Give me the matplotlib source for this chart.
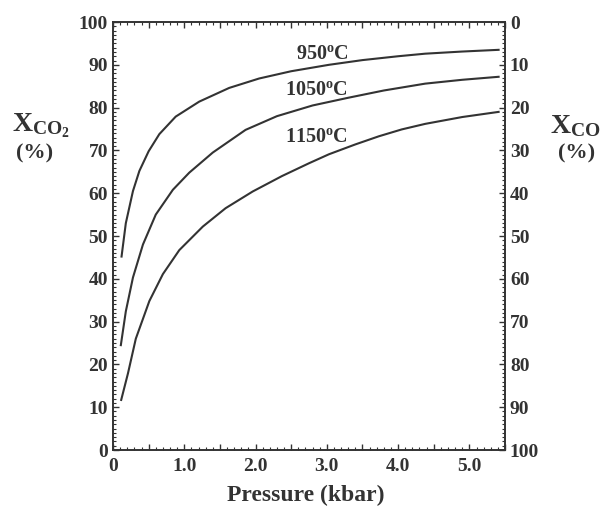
import matplotlib
matplotlib.use("Agg")
import matplotlib.pyplot as plt
from matplotlib.ticker import MultipleLocator, FuncFormatter

plt.rcParams["font.family"] = "Liberation Serif"
plt.rcParams["font.weight"] = "bold"
plt.rcParams["mathtext.fontset"] = "custom"
plt.rcParams["mathtext.rm"] = "Liberation Serif:bold"
plt.rcParams["mathtext.bf"] = "Liberation Serif:bold"
plt.rcParams["mathtext.it"] = "Liberation Serif:bold"

# pressure (kbar) vs X_CO2 (%)
p_950 = [0.12, 0.18, 0.28, 0.37, 0.50, 0.65, 0.88, 1.21, 1.63, 2.05, 2.50, 3.03, 3.50, 4.00, 4.38, 4.90, 5.41]
x_950 = [45.2, 53.0, 60.5, 65.2, 69.8, 73.8, 77.9, 81.4, 84.6, 86.8, 88.5, 90.0, 91.1, 92.0, 92.6, 93.1, 93.5]

p_1050 = [0.11, 0.18, 0.28, 0.42, 0.60, 0.84, 1.07, 1.40, 1.86, 2.30, 2.80, 3.30, 3.80, 4.38, 4.90, 5.41]
x_1050 = [24.5, 32.4, 40.3, 48.0, 55.0, 60.8, 64.8, 69.5, 74.8, 78.0, 80.5, 82.3, 84.0, 85.6, 86.5, 87.2]

p_1150 = [0.115, 0.21, 0.32, 0.51, 0.70, 0.93, 1.26, 1.58, 1.96, 2.37, 2.75, 3.03, 3.40, 3.73, 4.05, 4.38, 4.90, 5.41]
x_1150 = [11.7, 17.9, 26.0, 34.8, 41.1, 46.7, 52.2, 56.5, 60.4, 64.0, 67.0, 69.1, 71.4, 73.3, 74.9, 76.2, 77.8, 79.0]

labels = ["950$^{\\mathrm{o}}$C", "1050$^{\\mathrm{o}}$C", "1150$^{\\mathrm{o}}$C"]
label_pos = [(2.94, 91.4), (2.85, 82.9), (2.85, 72.0)]

fig = plt.figure(figsize=(6.02, 5.13), dpi=100)
ax = fig.add_axes([0.1877, 0.1228, 0.6512, 0.8343])
col = "#333333"
for p, x in [(p_950, x_950), (p_1050, x_1050), (p_1150, x_1150)]:
    ax.plot(p, x, color=col, linewidth=1.5)
for t, (px, py) in zip(labels, label_pos):
    ax.text(px, py, t, ha="center", va="baseline", fontsize=14.5, color=col)

ax.set_xlim(0, 5.5)
ax.set_ylim(0, 100)
ax.xaxis.set_major_locator(MultipleLocator(0.5))
ax.xaxis.set_minor_locator(MultipleLocator(0.1))
ax.xaxis.set_major_formatter(FuncFormatter(
    lambda v, _: "0" if abs(v) < 1e-9 else (f"{v:.1f}" if abs(v - round(v)) < 1e-9 else "")))
ax.yaxis.set_major_locator(MultipleLocator(10))
ax.yaxis.set_minor_locator(MultipleLocator(1))
ax.tick_params(which="both", direction="in", top=True, labelsize=14, colors=col)
ax.tick_params(which="major", length=4, width=1.0)
ax.tick_params(which="minor", length=2.5, width=0.8)
ax.tick_params(axis="x", pad=6)
for s in ax.spines.values():
    s.set_linewidth(1.4)
    s.set_color(col)

ax2 = ax.twinx()
ax2.set_ylim(100, 0)
ax2.yaxis.set_major_locator(MultipleLocator(10))
ax2.yaxis.set_minor_locator(MultipleLocator(1))
ax2.tick_params(which="both", direction="in", labelsize=14, colors=col)
ax2.tick_params(which="major", length=4, width=1.0)
ax2.tick_params(which="minor", length=2.5, width=0.8)
for s in ax2.spines.values():
    s.set_visible(False)

fig.text(0.068, 0.755, r"$\mathrm{X}_{\mathrm{CO}_2}$", ha="center", va="center", fontsize=20, color=col)
fig.text(0.058, 0.700, "(%)", ha="center", va="center", fontsize=16, color=col)
fig.text(0.955, 0.755, r"$\mathrm{X}_{\mathrm{CO}}$", ha="center", va="center", fontsize=20, color=col)
fig.text(0.958, 0.700, "(%)", ha="center", va="center", fontsize=16, color=col)
fig.text(0.508, 0.035, "Pressure (kbar)", ha="center", va="center", fontsize=17, color=col)

fig.savefig("out.png", dpi=100)
